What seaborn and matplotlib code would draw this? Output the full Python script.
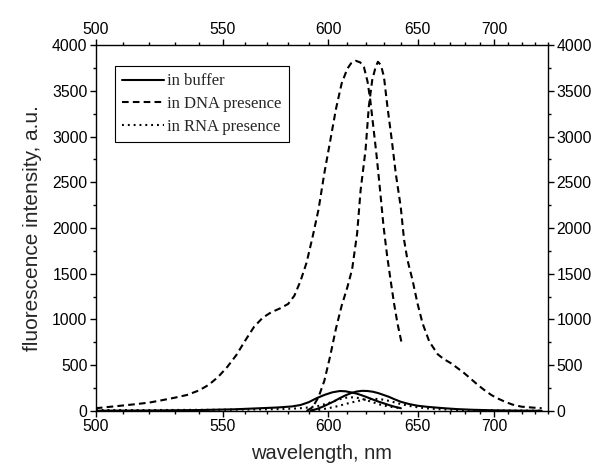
import matplotlib
matplotlib.use("Agg")
import matplotlib.pyplot as plt
import seaborn as sns
import pandas as pd
from matplotlib.ticker import MultipleLocator
from matplotlib.lines import Line2D

sns.set_style("ticks")
plt.rcParams['font.family'] = ['Liberation Sans', 'DejaVu Sans']

# DNA presence: excitation (broad, cut at 640 nm) and emission
dna_ex_wl = [500, 505, 510, 515, 520, 525, 530, 535, 540, 544, 548, 552, 556, 560, 564, 568, 572, 576,
             580, 583, 586, 589, 592, 595, 598, 601, 604, 607, 610, 612, 614.5, 617, 619, 621, 622.5,
             624, 626, 628, 630, 632, 634, 636, 638, 640.4]
dna_ex_val = [30, 45, 60, 75, 92, 118, 145, 175, 225, 285, 370, 480, 610, 770, 920, 1020, 1080, 1120,
              1170, 1260, 1420, 1620, 1900, 2200, 2600, 2950, 3300, 3580, 3740, 3800, 3828, 3810, 3760,
              3600, 3400, 3144, 2800, 2415, 2014, 1700, 1432, 1177, 958, 747]
dna_em_wl = [589, 592, 595, 598, 601, 604, 607, 610, 612.6, 615.3, 617.2, 619.9, 621.7, 623.6, 625.5,
             626.8, 628.5, 630.2, 632.2, 634.7, 637, 639.9, 641.9, 643.9, 646.9, 649.9, 653, 657.1,
             662.4, 666, 670.9, 675, 679.6, 684, 688.7, 693, 697.9, 702, 707.4, 713, 719.6, 727, 735]
dna_em_val = [0, 40, 150, 330, 600, 900, 1150, 1350, 1550, 1942, 2415, 2852, 3326, 3617, 3760, 3817,
              3780, 3654, 3326, 2962, 2598, 2233, 1869, 1650, 1432, 1177, 958, 760, 620, 570, 521, 470,
              412, 350, 284, 230, 175, 140, 102, 70, 47, 38, 30]

# in buffer
buf_ex_wl = [500, 520, 540, 555, 565, 575, 582, 586, 590, 594, 598, 602, 606, 609, 612, 615, 618, 621,
             624, 627, 630, 633, 636, 640]
buf_ex_val = [3, 5, 10, 18, 28, 38, 50, 65, 95, 139, 175, 203, 218, 215, 203, 190, 170, 148, 125, 103,
              84, 65, 48, 30]
buf_em_wl = [591, 594, 597, 600, 603, 606, 609, 612, 615, 618, 621, 624, 627, 630, 633, 636, 640, 645,
             650, 656, 662, 668, 675, 685, 700, 715, 735]
buf_em_val = [5, 20, 45, 75, 105, 140, 170, 195, 212, 220, 218, 210, 195, 175, 155, 130, 100, 75, 57,
              45, 36, 28, 20, 13, 7, 4, 2]

# in RNA presence
rna_ex_wl = [500, 520, 540, 560, 575, 585, 590, 595, 600, 604, 608, 611, 614, 617, 620, 624, 628, 632,
             636, 640]
rna_ex_val = [10, 10, 12, 15, 20, 28, 38, 55, 85, 115, 140, 150, 148, 138, 120, 95, 70, 52, 40, 30]
rna_em_wl = [592, 596, 600, 604, 608, 612, 616, 620, 624, 628, 632, 636, 640, 645, 650, 656, 664, 675,
             690, 710, 735]
rna_em_val = [5, 15, 30, 48, 70, 92, 110, 125, 132, 130, 115, 95, 75, 55, 40, 28, 18, 11, 7, 4, 3]

x_ticks = [500, 550, 600, 650, 700]
y_ticks = [0, 500, 1000, 1500, 2000, 2500, 3000, 3500, 4000]
labels = ['in buffer', 'in DNA presence', 'in RNA presence']

fig = plt.figure(figsize=(5.99, 4.74), dpi=100)
ax = fig.add_axes([0.160, 0.133, 0.755, 0.772])

# axis is linear in 1/wavelength
ax.set_xscale('function', functions=(lambda x: -1e4 / x, lambda y: -1e4 / y))

lw = 1.5
dash = (0, (3.2, 2.0))
dot = (0, (0.9, 1.9))
series = [
    (buf_ex_wl, buf_ex_val, '-'), (buf_em_wl, buf_em_val, '-'),
    (dna_ex_wl, dna_ex_val, dash), (dna_em_wl, dna_em_val, dash),
    (rna_ex_wl, rna_ex_val, dot), (rna_em_wl, rna_em_val, dot),
]
for wl, val, ls in series:
    df = pd.DataFrame({'wl': wl, 'val': val})
    sns.lineplot(data=df, x='wl', y='val', ax=ax, color='black', linewidth=lw,
                 linestyle=ls, sort=False, estimator=None)

ax.set_xlim(500, 740)
ax.set_ylim(0, 4000)
ax.xaxis.set_major_locator(MultipleLocator(50))
ax.xaxis.set_minor_locator(MultipleLocator(10))
ax.yaxis.set_major_locator(MultipleLocator(500))
ax.yaxis.set_minor_locator(MultipleLocator(250))
ax.set_xticks(x_ticks)
ax.set_yticks(y_ticks)

for s in ax.spines.values():
    s.set_visible(True)
    s.set_linewidth(1.0)
    s.set_color('black')
ax.tick_params(which='both', direction='out', top=True, right=True, labeltop=True, labelright=True,
               colors='black', labelsize=11.3, width=1.0)
ax.tick_params(which='major', length=4, pad=2)
ax.tick_params(which='minor', length=2.5)

ax.set_xlabel('wavelength, nm', fontsize=14.5, labelpad=7)
ax.set_ylabel('fluorescence intensity, a.u.', fontsize=15, labelpad=7)

handles = [Line2D([], [], color='black', lw=lw, linestyle=s[2]) for s in series[::2]]
leg = ax.legend(handles, labels, loc='upper left', bbox_to_anchor=(0.042, 0.943), borderaxespad=0,
                frameon=True, fancybox=False, edgecolor='black', framealpha=1,
                prop={'family': 'Liberation Serif', 'size': 12}, handlelength=2.5,
                handletextpad=0.2, labelspacing=0.4, borderpad=0.45)
leg.get_frame().set_linewidth(0.8)

fig.savefig('out.png', dpi=100)
